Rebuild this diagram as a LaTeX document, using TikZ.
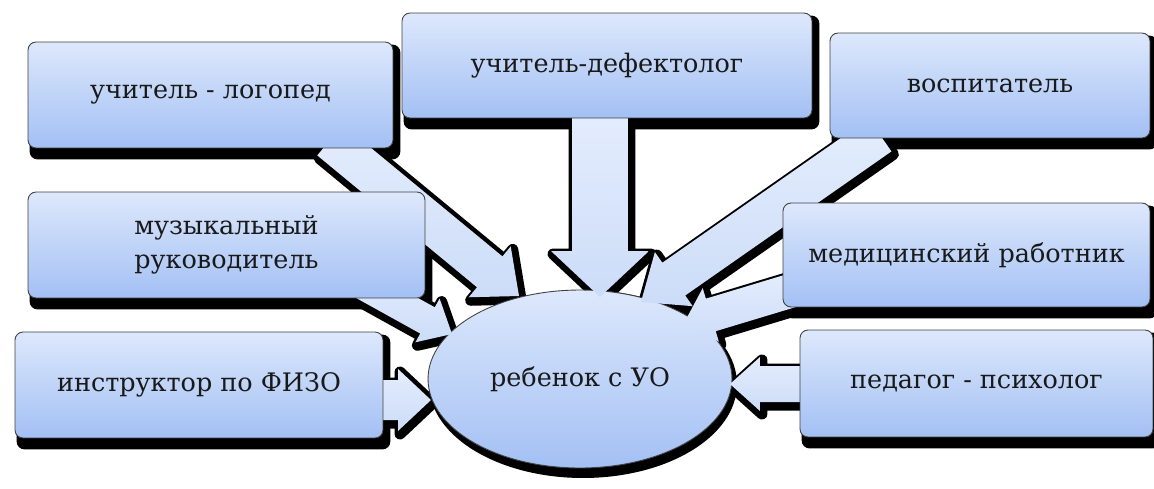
\documentclass[tikz,border=0pt]{standalone}
\usepackage{fontspec}
\setmainfont{DejaVu Serif}
\newfontfamily\boxfont{DejaVu Serif}
\usetikzlibrary{calc,shapes.geometric}
\pgfdeclarelayer{boxshadow}
\pgfdeclarelayer{arrshadow}
\pgfdeclarelayer{centre}
\pgfdeclarelayer{arrfill}
\pgfsetlayers{boxshadow,arrshadow,centre,arrfill,main}
\definecolor{boxtop}{HTML}{DDE8FC}
\definecolor{boxbot}{HTML}{A3C0F4}
\definecolor{arrtop}{HTML}{E4EDFD}
\definecolor{arrbot}{HTML}{CCDCF8}
% #1 start, #2 tip, #3 shaft half width, #4 head half width, #5 head length, #6 options
\newcommand\blockarrow[6]{%
  \path[#6] ($(#1)!#3!90:(#2)$) -- ($(#2)!#5!(#1)!#3!90:(#2)$) -- ($(#2)!#5!(#1)!#4!90:(#2)$) -- (#2)
    -- ($(#2)!#5!(#1)!#4!-90:(#2)$) -- ($(#2)!#5!(#1)!#3!-90:(#2)$) -- ($(#1)!#3!-90:(#2)$) -- cycle;}
\tikzset{
  box/.style={rectangle, rounded corners=0.16cm, draw=black!75, line width=0.5pt,
    top color=boxtop, bottom color=boxbot, font=\boxfont\fontsize{14.5}{19}\selectfont,
    text=black!90, align=center, inner sep=0pt},
  centrenode/.style={ellipse, draw=black!75, line width=0.5pt, top color=boxtop, bottom color=boxbot,
    font=\boxfont\fontsize{14.5}{19}\selectfont, text=black!90, inner sep=0pt},
  arrshade/.style={fill=black, draw=black, line width=0.22cm, line join=round,
    transform canvas={xshift=0.04cm,yshift=-0.06cm}},
  arrbody/.style={top color=arrtop, bottom color=arrbot}
}
\begin{document}
\begin{tikzpicture}[x=0.02cm,y=-0.02cm]
\useasboundingbox (0,0) rectangle (1154,488);

\node[box, minimum width=7.3cm, minimum height=2.12cm] (b1) at (210.5,95) {учитель - логопед};
\node[box, minimum width=8.2cm, minimum height=2.1cm] (b2) at (607,65.5) {учитель-дефектолог};
\node[box, minimum width=6.4cm, minimum height=2.1cm] (b3) at (990,85.5) {воспитатель};
\node[box, minimum width=7.94cm, minimum height=2.12cm] (b4) at (226.5,245) {музыкальный\\руководитель};
\node[box, minimum width=7.36cm, minimum height=2.12cm] (b5) at (199,385) {инструктор по ФИЗО};
\node[box, minimum width=7.34cm, minimum height=2.08cm] (b6) at (966.5,255) {медицинский работник};
\node[box, minimum width=7.06cm, minimum height=2.14cm] (b7) at (976.5,383.5) {педагог - психолог};

\coordinate (a1s) at (330,140); \coordinate (a1e) at (519,296);
\coordinate (a2s) at (600,110); \coordinate (a2e) at (600,297);
\coordinate (a3s) at (880,135); \coordinate (a3e) at (641,302);
\coordinate (a4s) at (360,283); \coordinate (a4e) at (452,334);
\coordinate (a5s) at (370,400); \coordinate (a5e) at (431,400);
\coordinate (a6s) at (800,288); \coordinate (a6e) at (684,323);
\coordinate (a7s) at (820,384); \coordinate (a7e) at (730,384);

\begin{pgfonlayer}{boxshadow}
  \foreach \b in {b1,b2,b3,b4,b5,b6,b7}
    \fill[black, rounded corners=0.16cm] ([shift={(2,3)}]\b.north west) rectangle ([shift={(7,11)}]\b.south east);
\end{pgfonlayer}

\begin{pgfonlayer}{arrshadow}
  \blockarrow{a1s}{a1e}{0.4cm}{0.66cm}{0.76cm}{arrshade}
  \blockarrow{a2s}{a2e}{0.56cm}{0.98cm}{0.92cm}{arrshade}
  \blockarrow{a3s}{a3e}{0.4cm}{0.66cm}{0.8cm}{arrshade}
  \blockarrow{a4s}{a4e}{0.3cm}{0.5cm}{0.56cm}{arrshade}
  \blockarrow{a5s}{a5e}{0.4cm}{0.62cm}{0.66cm}{arrshade}
  \blockarrow{a6s}{a6e}{0.34cm}{0.56cm}{0.56cm}{arrshade}
  \blockarrow{a7s}{a7e}{0.36cm}{0.54cm}{0.6cm}{arrshade}
\end{pgfonlayer}

\begin{pgfonlayer}{centre}
  \fill[black] (583,384) ellipse [x radius=3.08cm, y radius=1.88cm];
  \node[centrenode, minimum width=6.08cm, minimum height=3.56cm] (c) at (580,379) {ребенок с УО};
\end{pgfonlayer}

\begin{pgfonlayer}{arrfill}
  \blockarrow{a1s}{a1e}{0.4cm}{0.66cm}{0.76cm}{arrbody}
  \blockarrow{a2s}{a2e}{0.56cm}{0.98cm}{0.92cm}{arrbody}
  \blockarrow{a3s}{a3e}{0.4cm}{0.66cm}{0.8cm}{arrbody}
  \blockarrow{a4s}{a4e}{0.3cm}{0.5cm}{0.56cm}{arrbody}
  \blockarrow{a5s}{a5e}{0.4cm}{0.62cm}{0.66cm}{arrbody}
  \blockarrow{a6s}{a6e}{0.34cm}{0.56cm}{0.56cm}{arrbody}
  \blockarrow{a7s}{a7e}{0.36cm}{0.54cm}{0.6cm}{arrbody}
\end{pgfonlayer}
\end{tikzpicture}
\end{document}
